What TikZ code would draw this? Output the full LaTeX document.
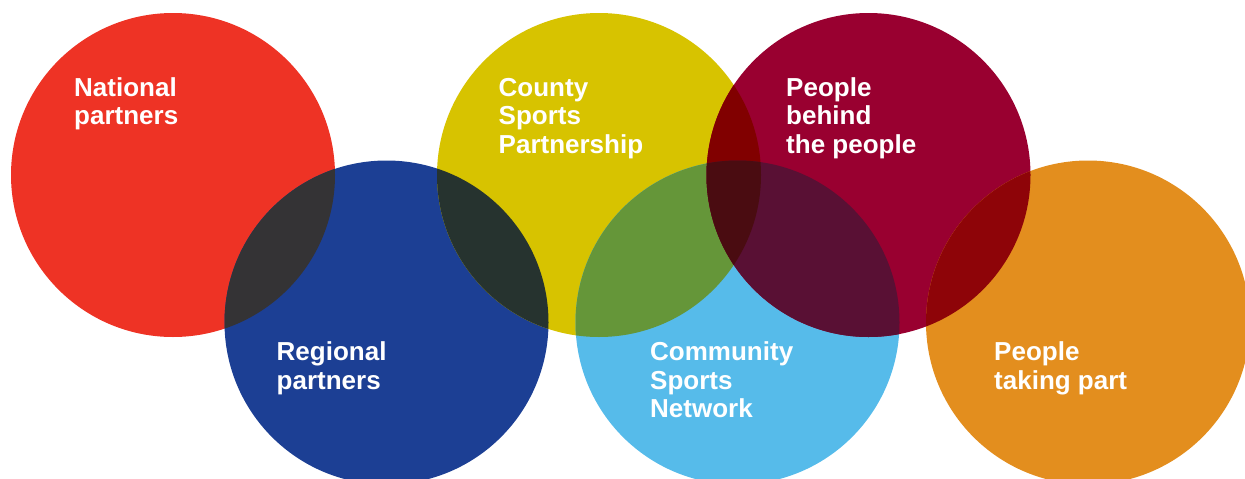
\documentclass[tikz,border=0pt]{standalone}
\usepackage{fontspec}
\setmainfont{Liberation Sans}
\definecolor{cRed}{HTML}{EE3325}
\definecolor{cBlue}{HTML}{1C3F94}
\definecolor{cYellow}{HTML}{D7C300}
\definecolor{cSky}{HTML}{56BBEA}
\definecolor{cCrimson}{HTML}{990030}
\definecolor{cOrange}{HTML}{E38E1E}
\definecolor{oRedBlue}{HTML}{343335}
\definecolor{oBlueYellow}{HTML}{26332F}
\definecolor{oYellowSky}{HTML}{659639}
\definecolor{oYellowCrimson}{HTML}{810000}
\definecolor{oSkyCrimson}{HTML}{591034}
\definecolor{oTriple}{HTML}{4A0C11}
\definecolor{oCrimsonOrange}{HTML}{8E0408}
\begin{document}
\begin{tikzpicture}[x=1pt,y=-1pt,
  ring/.style={radius=162pt},
  tag/.style={text=white, font=\fontsize{26}{28.3}\selectfont\bfseries,
    anchor=base west, inner sep=0pt, align=left}]
\useasboundingbox (0,0) rectangle (1245,479);
\clip (0,0) rectangle (1245,479);
% circle centres
\coordinate (R) at (173,175);
\coordinate (B) at (386.5,322.5);
\coordinate (Y) at (599,175);
\coordinate (S) at (737.5,322.5);
\coordinate (C) at (868.5,175);
\coordinate (O) at (1088,322.5);
% plain discs
\fill[cRed] (R) circle[ring];
\fill[cBlue] (B) circle[ring];
\fill[cYellow] (Y) circle[ring];
\fill[cSky] (S) circle[ring];
\fill[cCrimson] (C) circle[ring];
\fill[cOrange] (O) circle[ring];
% pairwise overlaps
\begin{scope}\clip (R) circle[ring]; \fill[oRedBlue] (B) circle[ring];\end{scope}
\begin{scope}\clip (B) circle[ring]; \fill[oBlueYellow] (Y) circle[ring];\end{scope}
\begin{scope}\clip (Y) circle[ring]; \fill[oYellowSky] (S) circle[ring];\end{scope}
\begin{scope}\clip (Y) circle[ring]; \fill[oYellowCrimson] (C) circle[ring];\end{scope}
\begin{scope}\clip (S) circle[ring]; \fill[oSkyCrimson] (C) circle[ring];\end{scope}
\begin{scope}\clip (C) circle[ring]; \fill[oCrimsonOrange] (O) circle[ring];\end{scope}
% triple overlap
\begin{scope}\clip (Y) circle[ring]; \clip (S) circle[ring]; \fill[oTriple] (C) circle[ring];\end{scope}
% labels (anchored at the baseline of the last line)
\node[tag] (tN) at (74,124.7) {National\\partners};
\node[tag] (tR) at (276.5,389) {Regional\\partners};
\node[tag] (tY) at (498.5,153) {County\\Sports\\Partnership};
\node[tag] (tS) at (650,417.5) {Community\\Sports\\Network};
\node[tag] (tC) at (786,153) {People\\behind\\the people};
\node[tag] (tO) at (994,389) {People\\taking part};
\end{tikzpicture}
\end{document}
